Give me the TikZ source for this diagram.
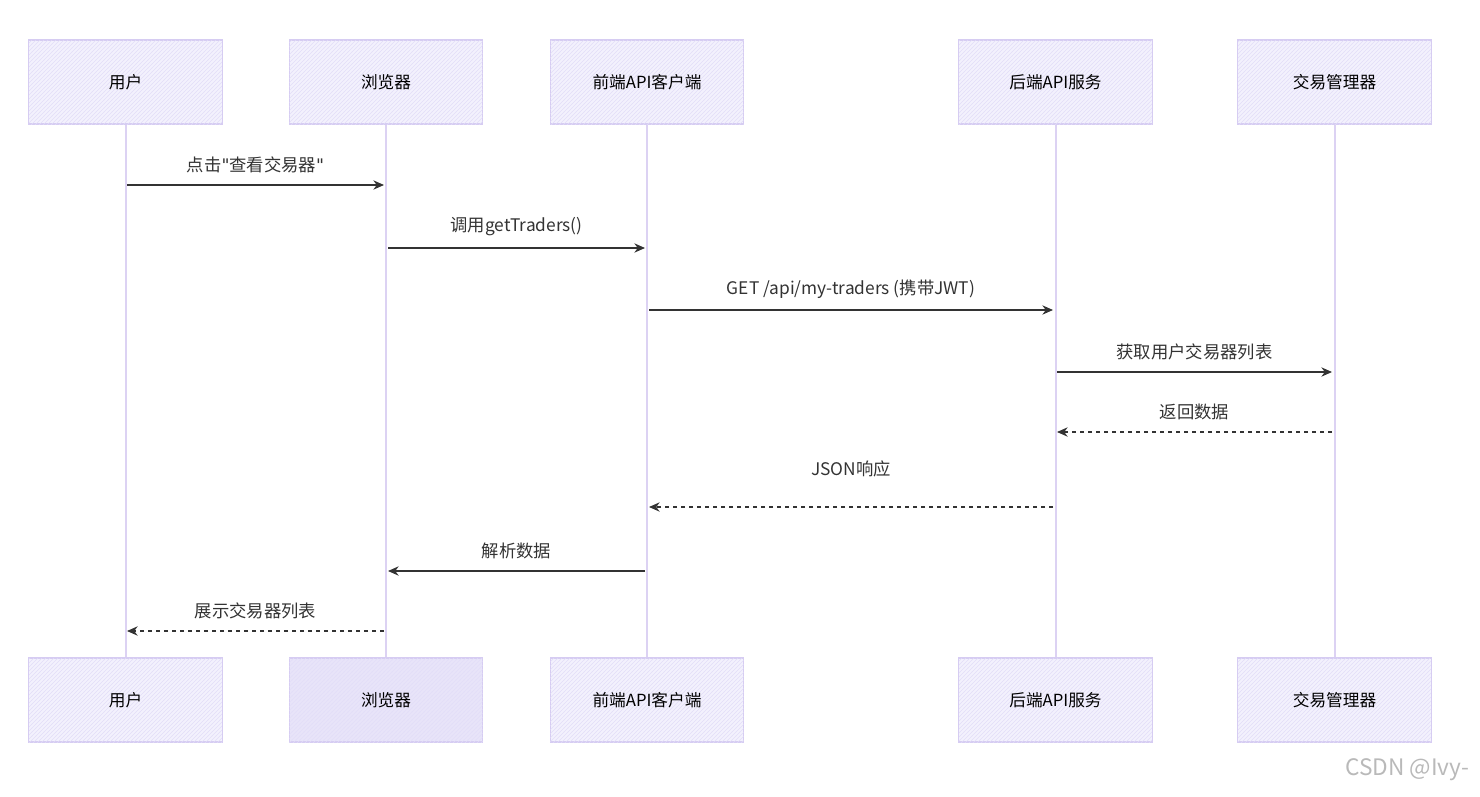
\documentclass[tikz,border=0pt]{standalone}
\usepackage{fontspec}
\setmainfont{Noto Sans CJK SC}
\newfontfamily\latinq{DejaVu Sans}
\usetikzlibrary{arrows.meta,patterns}
\definecolor{actfill}{HTML}{F3F1FD}
\definecolor{actline}{HTML}{D6CCF2}
\definecolor{life}{HTML}{DCD2F3}
\definecolor{hatch}{HTML}{E2DDF8}
\definecolor{msg}{HTML}{333333}
\tikzset{
 actor/.style={draw=actline,line width=0.8pt,fill=actfill,postaction={pattern=north east lines,pattern color=hatch},minimum width=145pt,minimum height=63pt,font=\fontsize{12.5}{15}\selectfont,text=black},
 actorsolid/.style={actor,postaction={},fill=hatch!80!white},
 lifeline/.style={draw=life,line width=1.5pt},
 call/.style={draw=msg,line width=0.9pt,-{Stealth[length=8pt,width=7pt]}},
 ret/.style={call,dashed},
 lbl/.style={font=\fontsize{13}{16}\selectfont,text=msg,above=5pt}
}
\begin{document}
\begin{tikzpicture}[x=0.75pt,y=-0.75pt]
\useasboundingbox (0,0) rectangle (1480,796);
\foreach \n/\x/\t in {u/125.5/用户,b/386/浏览器,f/647/前端API客户端,k/1055.5/后端API服务,m/1334.5/交易管理器}{
  \draw[lifeline] (\x,124) -- (\x,658);
  \node[actor] (\n top) at (\x,82) {\t};
}
\node[actor] (u bot) at (125.5,700) {用户};
\node[actorsolid] (b bot) at (386,700) {浏览器};
\node[actor] (f bot) at (647,700) {前端API客户端};
\node[actor] (k bot) at (1055.5,700) {后端API服务};
\node[actor] (m bot) at (1334.5,700) {交易管理器};
\coordinate (u1) at (127,185); \coordinate (b1) at (384,185);
\coordinate (b2) at (388,248); \coordinate (f2) at (645,248);
\coordinate (f3) at (649,310); \coordinate (k3) at (1053,310);
\coordinate (k4) at (1057,372); \coordinate (m4) at (1332,372);
\coordinate (m5) at (1332,432); \coordinate (k5) at (1057,432);
\coordinate (k6) at (1053,507); \coordinate (f6) at (649,507);
\coordinate (f7) at (645,571); \coordinate (b7) at (388,571);
\coordinate (b8) at (384,631); \coordinate (u8) at (127,631);
\draw[call] (u1) -- node[lbl]{点击{\latinq"}查看交易器{\latinq"}} (b1);
\draw[call] (b2) -- node[lbl]{调用getTraders()} (f2);
\draw[call] (f3) -- node[lbl]{GET /api/my-traders (携带JWT)} (k3);
\draw[call] (k4) -- node[lbl]{获取用户交易器列表} (m4);
\draw[ret] (m5) -- node[lbl]{返回数据} (k5);
\draw[ret] (k6) -- node[lbl,above=14pt]{JSON响应} (f6);
\draw[call] (f7) -- node[lbl]{解析数据} (b7);
\draw[ret] (b8) -- node[lbl]{展示交易器列表} (u8);
\node[anchor=east,text=gray!55,font=\fontsize{17}{20}\selectfont] (wm) at (1474,770) {CSDN @Ivy-};
\end{tikzpicture}
\end{document}
